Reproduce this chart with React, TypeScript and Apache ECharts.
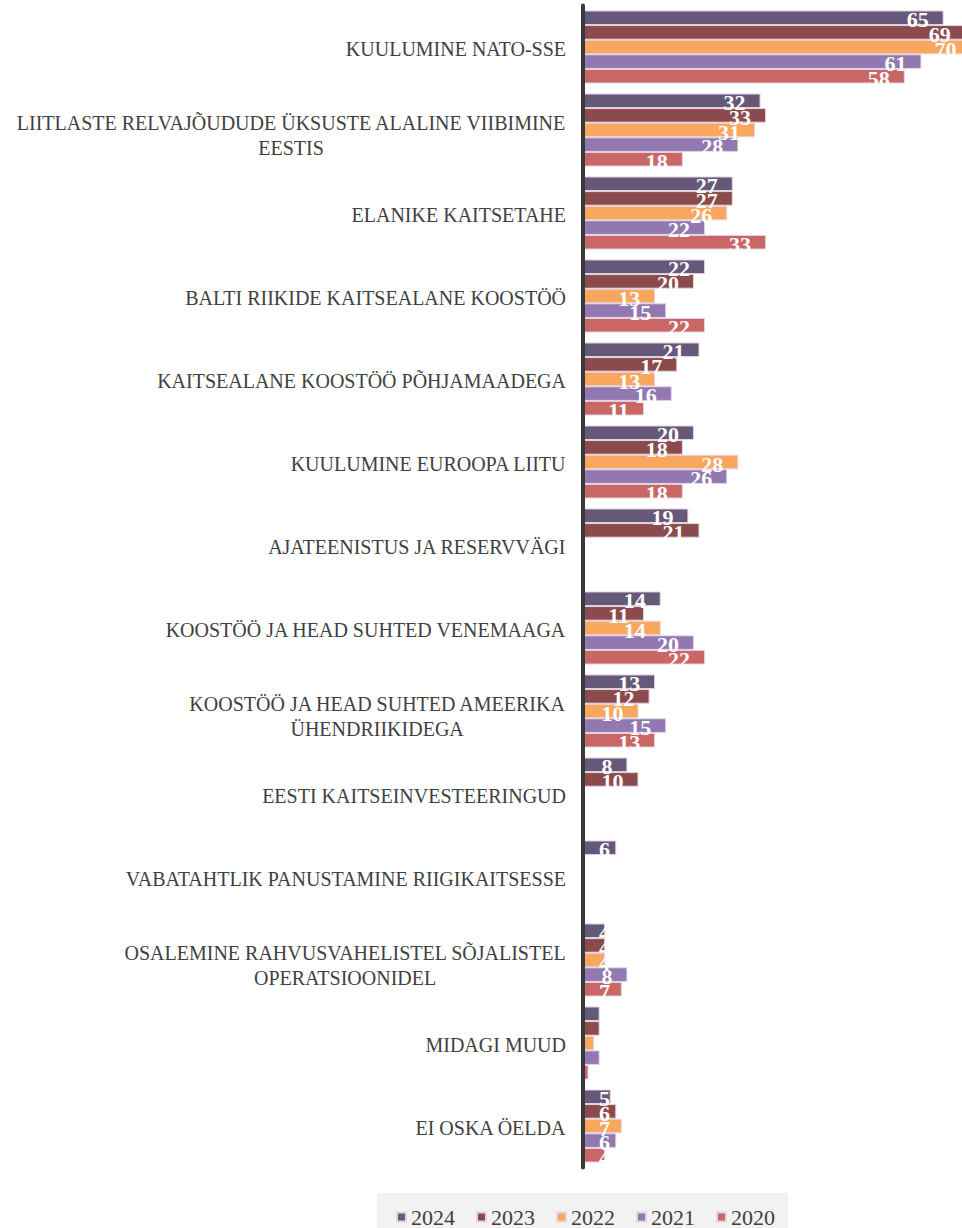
import React, { useEffect, useRef } from "react";
import * as echarts from "echarts";

const categories = [
  "KUULUMINE NATO-SSE",
  "LIITLASTE RELVAJÕUDUDE ÜKSUSTE ALALINE VIIBIMINE\nEESTIS",
  "ELANIKE KAITSETAHE",
  "BALTI RIIKIDE KAITSEALANE KOOSTÖÖ",
  "KAITSEALANE KOOSTÖÖ PÕHJAMAADEGA",
  "KUULUMINE EUROOPA LIITU",
  "AJATEENISTUS JA RESERVVÄGI",
  "KOOSTÖÖ JA HEAD SUHTED VENEMAAGA",
  "KOOSTÖÖ JA HEAD SUHTED AMEERIKA\nÜHENDRIIKIDEGA",
  "EESTI KAITSEINVESTEERINGUD",
  "VABATAHTLIK PANUSTAMINE RIIGIKAITSESSE",
  "OSALEMINE RAHVUSVAHELISTEL SÕJALISTEL\nOPERATSIOONIDEL",
  "MIDAGI MUUD",
  "EI OSKA ÖELDA",
];

const years = ["2024", "2023", "2022", "2021", "2020"];

const values2024 = [65, 32, 27, 22, 21, 20, 19, 14, 13, 8, 6, 4, 3, 5];
const values2023 = [69, 33, 27, 20, 17, 18, 21, 11, 12, 10, null, 4, 3, 6];
const values2022 = [70, 31, 26, 13, 13, 28, null, 14, 10, null, null, 4, 2, 7];
const values2021 = [61, 28, 22, 15, 16, 26, null, 20, 15, null, null, 8, 3, 6];
const values2020 = [58, 18, 33, 22, 11, 18, null, 22, 13, null, null, 7, 1, 4];

const seriesValues = [values2024, values2023, values2022, values2021, values2020];
const colors = ["#665879", "#8b4a4b", "#f9a65f", "#9278b0", "#c96766"];

const SERIF = "'Liberation Serif', 'Times New Roman', serif";
const TEXT = "#404040";

function labelFor(v: number) {
  if (v <= 3) return { show: false };
  if (v <= 7) return { show: true, position: "insideLeft", distance: 16 };
  return { show: true, position: "insideRight", distance: 15 };
}

export default function App() {
  const ref = useRef<HTMLDivElement>(null);
  useEffect(() => {
    if (!ref.current) return;
    const chart = echarts.init(ref.current, undefined, { renderer: "svg" });
    const option = {
      animation: false,
      backgroundColor: "#ffffff",
      grid: { left: 583, top: 5.5, right: 0, height: 1162, containLabel: false },
      legend: {
        data: years,
        left: 377,
        top: 1193,
        orient: "horizontal",
        backgroundColor: "#f2f2f2",
        padding: [13, 13, 13, 19],
        itemWidth: 9,
        itemHeight: 9,
        itemGap: 21,
        icon: "rect",
        textStyle: { fontFamily: SERIF, fontSize: 22, color: TEXT, lineHeight: 22 },
      },
      xAxis: {
        type: "value",
        min: 0,
        max: 68.31,
        show: false,
      },
      yAxis: {
        type: "category",
        inverse: true,
        data: categories,
        z: 10,
        axisTick: { show: false },
        axisLine: { show: true, lineStyle: { color: "#3a3a3a", width: 4 } },
        axisLabel: {
          margin: 17,
          interval: 0,
          fontFamily: SERIF,
          fontSize: 20,
          color: TEXT,
          formatter: (val: string) => {
            const lines = val.split("\n");
            if (lines.length === 1) return `{s|${val}}`;
            return `{t|${lines[0]}}\n{t|${lines[1]}}`;
          },
          rich: {
            s: {
              fontFamily: SERIF,
              fontSize: 20,
              color: TEXT,
              lineHeight: 24,
              padding: [4, 0, 0, 0],
              align: "center",
            },
            t: {
              fontFamily: SERIF,
              fontSize: 20,
              color: TEXT,
              lineHeight: 25,
              padding: [11, 0, 0, 0],
              align: "center",
            },
          },
        },
      },
      series: years.map((y, i) => ({
        name: y,
        type: "bar",
        clip: false,
        barGap: "0%",
        barCategoryGap: "12%",
        itemStyle: { color: colors[i], borderColor: "#e4d4e2", borderWidth: 1 },
        label: {
          color: "#ffffff",
          fontFamily: SERIF,
          fontWeight: "bold",
          fontSize: 22,
          lineHeight: 13,
          offset: [0, 2],
          formatter: (p: any) => String(Math.round(p.value)),
        },
        data: seriesValues[i].map((v) =>
          v == null ? null : { value: v, label: labelFor(v) }
        ),
      })),
    };
    chart.setOption(option as any);
    return () => chart.dispose();
  }, []);
  return (
    <div
      ref={ref}
      style={{ position: "absolute", left: 0, top: 0, width: 962, height: 1228 }}
    />
  );
}
